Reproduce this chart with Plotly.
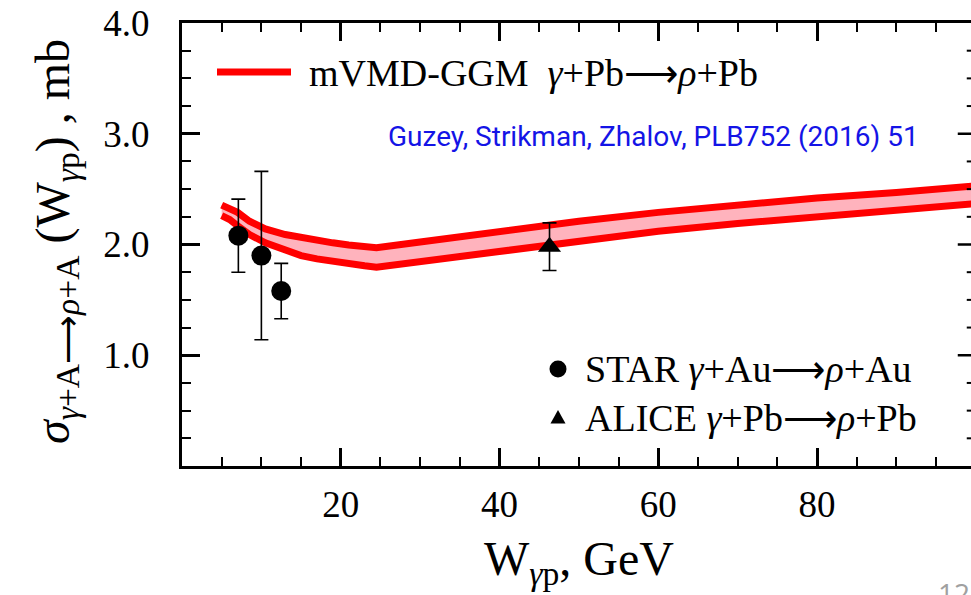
import numpy as np
import plotly.graph_objects as go

# ---- model band (mVMD-GGM, gamma+Pb -> rho+Pb), sigma in mb vs W in GeV ----
w_model = [5, 6, 7, 8.5, 10.5, 13, 15, 17, 19, 21, 23, 24.5,
           30, 35, 40, 46, 50, 60, 70, 80, 90, 100]
sigma_upper = [2.356, 2.33, 2.29, 2.21, 2.14, 2.09, 2.06, 2.035, 2.015, 1.995, 1.978, 1.97,
               2.022, 2.07, 2.117, 2.175, 2.21, 2.29, 2.36, 2.42, 2.47, 2.53]
sigma_lower = [2.26, 2.225, 2.17, 2.09, 2.015, 1.945, 1.90, 1.87, 1.845, 1.825, 1.808, 1.795,
               1.845, 1.89, 1.936, 1.99, 2.03, 2.12, 2.19, 2.255, 2.31, 2.37]

# ---- measurements ----
star_w = [7.1, 10.0, 12.5]
star_sigma = [2.08, 1.90, 1.58]
star_err = [0.33, 0.76, 0.25]

alice_w = [46.3]
alice_sigma = [1.98]
alice_err = [0.215]

x_ticks = [20, 40, 60, 80, 100]
x_ticktext = ["20", "40", "60", "80", "100"]
y_ticks = [1, 2, 3, 4]
y_ticktext = ["1.0", "2.0", "3.0", "4.0"]

W, H = 971, 595
ML, MR, MT, MB = 182, 0, 23, 129
X_RANGE = [0, 99.4]
Y_RANGE = [0, 4]

SERIF = "Liberation Serif, Times New Roman, serif"
RED = "#ff0000"
PINK = "#ffb3bd"
ARROW = "⟶"


def px(x):
    return (x - ML) / (W - ML - MR)


def py(y):
    return (H - MB - y) / (H - MT - MB)


fig = go.Figure()

# pink band between the two model curves
fig.add_trace(go.Scatter(x=w_model, y=sigma_lower, mode="lines",
                         line=dict(width=0, color=PINK), hoverinfo="skip",
                         showlegend=False))
fig.add_trace(go.Scatter(x=w_model, y=sigma_upper, mode="lines",
                         line=dict(width=0, color=PINK), fill="tonexty",
                         fillcolor=PINK, hoverinfo="skip", showlegend=False))
# band edges
for ys in (sigma_lower, sigma_upper):
    fig.add_trace(go.Scatter(x=w_model, y=ys, mode="lines",
                             line=dict(width=7, color=RED),
                             showlegend=False))

fig.add_trace(go.Scatter(
    x=star_w, y=star_sigma, mode="markers", showlegend=False,
    marker=dict(symbol="circle", size=20, color="black"),
    error_y=dict(type="data", array=star_err, visible=True,
                 color="black", thickness=1.6, width=7)))
fig.add_trace(go.Scatter(
    x=alice_w, y=alice_sigma, mode="markers", showlegend=False,
    marker=dict(symbol="triangle-up", size=20, color="black"),
    error_y=dict(type="data", array=alice_err, visible=True,
                 color="black", thickness=1.6, width=7)))

shapes = []
# ticks on the right frame (frame sits at W = 100 GeV)
for v in np.arange(0.25, 4.0, 0.25):
    major = abs(v - round(v)) < 1e-9
    shapes.append(dict(type="line", xref="x", yref="y", xsizemode="pixel",
                       xanchor=100, x0=-18 if major else -9, x1=0,
                       y0=v, y1=v,
                       line=dict(color="black", width=2.5 if major else 2)))

# legend: model line sample
shapes.append(dict(type="line", xref="paper", yref="paper",
                   x0=px(217), x1=px(291), y0=py(72), y1=py(72),
                   line=dict(color=RED, width=7)))
# legend: STAR circle and ALICE triangle
shapes.append(dict(type="circle", xref="paper", yref="paper",
                   xsizemode="pixel", ysizemode="pixel",
                   xanchor=px(558), yanchor=py(369),
                   x0=-8.5, x1=8.5, y0=-8.5, y1=8.5,
                   fillcolor="black", line=dict(width=0)))
shapes.append(dict(type="path", xref="paper", yref="paper",
                   xsizemode="pixel", ysizemode="pixel",
                   xanchor=px(558), yanchor=py(417),
                   path="M -7.5 -6.5 L 7.5 -6.5 L 0 7 Z",
                   fillcolor="black", line=dict(width=0)))

annotations = [
    dict(text=f"mVMD-GGM  <i>γ</i>+Pb{ARROW}<i>ρ</i>+Pb", x=px(307), y=py(73),
         xanchor="left", yanchor="middle", font=dict(family=SERIF, size=38)),
    dict(text="Guzey, Strikman, Zhalov, PLB752 (2016) 51", x=px(386), y=py(137),
         xanchor="left", yanchor="middle",
         font=dict(family="Roboto, sans-serif", size=28, color="#1414e6")),
    dict(text=f"STAR <i>γ</i>+Au{ARROW}<i>ρ</i>+Au", x=px(583), y=py(369),
         xanchor="left", yanchor="middle", font=dict(family=SERIF, size=38)),
    dict(text=f"ALICE <i>γ</i>+Pb{ARROW}<i>ρ</i>+Pb", x=px(583), y=py(418),
         xanchor="left", yanchor="middle", font=dict(family=SERIF, size=38)),
    dict(text="W<sub><i>γ</i>p</sub>, GeV", x=px(579), y=py(562),
         xanchor="center", yanchor="middle", font=dict(family=SERIF, size=48)),
    dict(text=f"<i>σ</i><sub><i>γ</i>+A{ARROW}<i>ρ</i>+A</sub> (W<sub><i>γ</i>p</sub>) , mb",
         x=px(56), y=py(242), textangle=-90,
         xanchor="center", yanchor="middle", font=dict(family=SERIF, size=48)),
    dict(text="12", x=px(936), y=py(572), xanchor="left", yanchor="top",
         font=dict(family="Open Sans, sans-serif", size=28, color="#a0a0a0")),
]
for a in annotations:
    a.update(xref="paper", yref="paper", showarrow=False)

fig.update_layout(
    width=W, height=H,
    margin=dict(l=ML, r=MR, t=MT, b=MB),
    paper_bgcolor="white", plot_bgcolor="white",
    font=dict(family=SERIF, color="black"),
    shapes=shapes, annotations=annotations,
    xaxis=dict(range=X_RANGE, tickmode="array", tickvals=x_ticks,
               ticktext=x_ticktext, ticks="inside", ticklen=18, tickwidth=2.5,
               tickcolor="black", showline=True, linewidth=3, linecolor="black",
               mirror="ticks", showgrid=False, zeroline=False,
               tickfont=dict(family=SERIF, size=37, color="black"),
               ticklabelstandoff=4,
               minor=dict(tickmode="linear", tick0=0, dtick=5, ticks="inside",
                          ticklen=9, tickwidth=2, tickcolor="black",
                          showgrid=False)),
    yaxis=dict(range=Y_RANGE, tickmode="array", tickvals=y_ticks,
               ticktext=y_ticktext, ticks="inside", ticklen=18, tickwidth=2.5,
               tickcolor="black", showline=True, linewidth=3, linecolor="black",
               mirror=False, showgrid=False, zeroline=False,
               tickfont=dict(family=SERIF, size=37, color="black"),
               ticklabelstandoff=22,
               minor=dict(tickmode="linear", tick0=0, dtick=0.25, ticks="inside",
                          ticklen=9, tickwidth=2, tickcolor="black",
                          showgrid=False)),
)

fig.write_html("out.html")
